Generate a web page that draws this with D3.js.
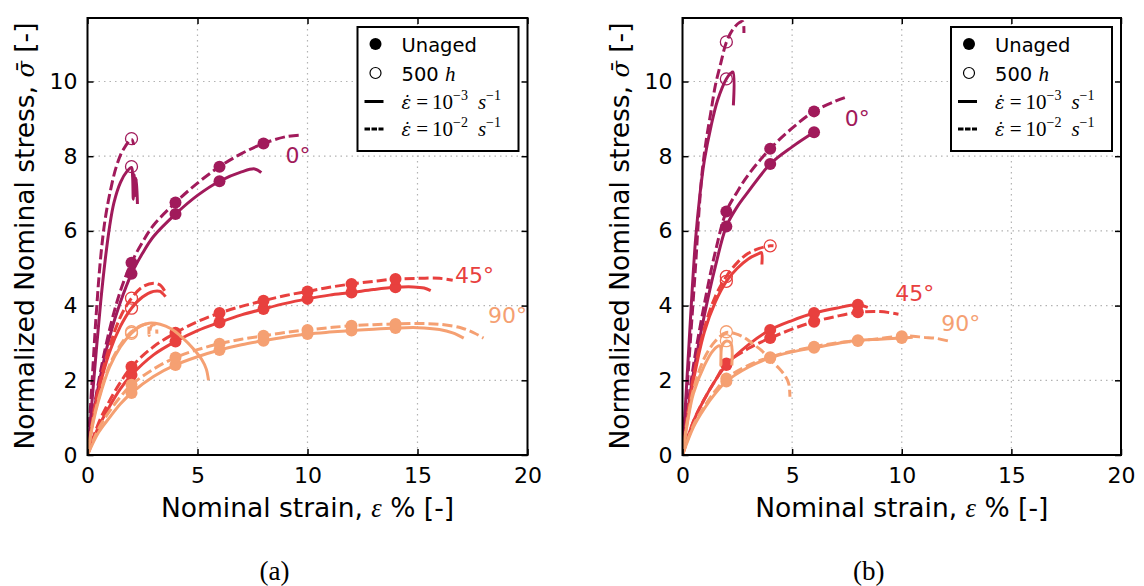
<!DOCTYPE html>
<html><head><meta charset="utf-8">
<script src="https://cdn.jsdelivr.net/npm/d3@7"></script>
<style>body{margin:0;background:#fff}</style></head>
<body><svg id="c" width="1144" height="586"></svg>
<script>
// ---------- ticks / categories ----------
const xTicks = [0, 5, 10, 15, 20];
const yTicks = [0, 2, 4, 6, 8, 10];
const yMax = 11.7;
const angleLabels = ["0°", "45°", "90°"];
const angleColors = ["#a11a5b", "#e8403e", "#f5a072"];
const legendLabels = ["Unaged", "500 h", "rate-3", "rate-2"];

// ---------- panel (a) data : [strain %, normalized stress] ----------
// us = unaged, ε̇=1e-3 (solid) ; uf = unaged, ε̇=1e-2 (dashed) ; as / af = 500 h aged
const a0_us = [[0,0],[0.25,1.0],[0.5,1.85],[1,3.15],[1.5,4.1],[2,4.85],[2.5,5.4],[3,5.85],[4,6.45],[5,6.95],[6,7.33],[7,7.58],[7.6,7.66],[7.9,7.56]];
const a0_us_m = [[2,4.85],[4,6.45],[6,7.33]];
const a0_uf = [[0,0],[0.25,1.05],[0.5,1.95],[1,3.35],[1.5,4.4],[2,5.15],[2.5,5.7],[3,6.15],[4,6.76],[5,7.28],[6,7.72],[7,8.07],[8,8.34],[9,8.52],[9.6,8.56]];
const a0_uf_m = [[2,5.15],[4,6.76],[6,7.72],[8,8.34]];
const a0_as = [[0,0],[0.2,1.4],[0.4,2.8],[0.6,4.1],[0.8,5.2],[1.0,6.1],[1.2,6.75],[1.5,7.3],[1.8,7.6],[2,7.7],[2.05,7.45],[2.08,6.85],[2.12,7.5],[2.17,6.95],[2.22,7.4],[2.27,6.72]];
const a0_as_m = [[2,7.72]];
const a0_af = [[0,0],[0.2,1.9],[0.4,3.8],[0.6,5.3],[0.8,6.3],[1.05,7.1],[1.3,7.7],[1.6,8.15],[2,8.45],[2.1,8.3]];
const a0_af_m = [[2,8.47]];
const a45_us = [[0,0],[0.5,0.75],[1,1.3],[1.5,1.78],[2,2.14],[3,2.68],[4,3.04],[5,3.33],[6,3.55],[7,3.75],[8,3.91],[9,4.06],[10,4.18],[11,4.28],[12,4.35],[13,4.43],[14,4.49],[14.8,4.5],[15.3,4.47],[15.6,4.4]];
const a45_us_m = [[2,2.14],[4,3.04],[6,3.55],[8,3.91],[10,4.18],[12,4.35],[14,4.49]];
const a45_uf = [[0,0],[0.5,0.85],[1,1.45],[1.5,1.95],[2,2.36],[3,2.9],[4,3.27],[5,3.57],[6,3.8],[7,3.98],[8,4.13],[9,4.27],[10,4.38],[11,4.49],[12,4.58],[13,4.65],[14,4.71],[15,4.73],[16,4.73],[16.6,4.68]];
const a45_uf_m = [[2,2.36],[4,3.27],[6,3.8],[8,4.13],[10,4.38],[12,4.58],[14,4.71]];
const a45_as = [[0,0],[0.25,0.95],[0.5,1.7],[1,2.75],[1.5,3.45],[2,3.93],[2.5,4.23],[3,4.38],[3.3,4.38],[3.55,4.24]];
const a45_as_m = [[2,3.93]];
const a45_af = [[0,0],[0.25,1.0],[0.5,1.8],[1,2.9],[1.5,3.7],[2,4.2],[2.5,4.5],[3,4.6],[3.3,4.55],[3.6,4.3]];
const a45_af_m = [[2,4.2]];
const a90_us = [[0,0],[0.5,0.6],[1,1.0],[1.5,1.37],[2,1.66],[3,2.1],[4,2.41],[5,2.63],[6,2.81],[7,2.95],[8,3.06],[9,3.16],[10,3.24],[11,3.29],[12,3.33],[13,3.37],[14,3.4],[15,3.41],[16,3.36],[16.6,3.27],[17.1,3.13]];
const a90_us_m = [[2,1.66],[4,2.41],[6,2.81],[8,3.06],[10,3.24],[12,3.33],[14,3.4]];
const a90_uf = [[0,0],[0.5,0.7],[1,1.17],[1.5,1.56],[2,1.88],[3,2.3],[4,2.61],[5,2.82],[6,2.98],[7,3.1],[8,3.19],[9,3.28],[10,3.35],[11,3.41],[12,3.46],[13,3.49],[14,3.51],[15,3.52],[16,3.5],[17,3.4],[17.6,3.26],[18,3.13]];
const a90_uf_m = [[2,1.88],[4,2.61],[6,2.98],[8,3.19],[10,3.35],[12,3.46],[14,3.51]];
const a90_as = [[0,0],[0.25,0.85],[0.5,1.45],[1,2.35],[1.5,2.9],[2,3.26],[2.4,3.45],[2.8,3.53],[3.3,3.5],[3.8,3.38],[4.3,3.15],[4.8,2.85],[5.2,2.55],[5.4,2.3],[5.5,2.0]];
const a90_as_m = [[2,3.26]];
const a90_af = [[0,0],[0.25,0.9],[0.5,1.5],[1,2.4],[1.5,2.95],[2,3.3],[2.5,3.48],[2.75,3.5],[2.8,3.2],[2.9,3.45],[3.1,3.48],[3.15,3.25]];
const a90_af_m = [[2,3.3]];

// ---------- panel (b) data ----------
const b0_us = [[0,0],[0.25,1.2],[0.5,2.2],[1,3.75],[1.5,5.05],[2,6.12],[2.5,6.65],[3,7.05],[4,7.79],[5,8.25],[6,8.64]];
const b0_us_m = [[2,6.12],[4,7.79],[6,8.64]];
const b0_uf = [[0,0],[0.25,1.3],[0.5,2.4],[1,4.05],[1.5,5.45],[2,6.52],[2.5,7.05],[3,7.5],[4,8.2],[5,8.75],[6,9.2],[7,9.48],[7.5,9.59]];
const b0_uf_m = [[2,6.52],[4,8.2],[6,9.2]];
const b0_as = [[0,0],[0.15,1.5],[0.3,3.0],[0.45,4.5],[0.6,5.8],[0.8,7.0],[1.0,7.9],[1.3,8.8],[1.6,9.5],[2,10.07],[2.2,10.22],[2.3,10.25],[2.32,9.36]];
const b0_as_m = [[2,10.07]];
const b0_af = [[0,0],[0.2,1.7],[0.4,3.4],[0.6,5.1],[0.75,6.5],[0.9,7.6],[1.1,8.5],[1.3,9.2],[1.5,9.9],[1.75,10.5],[2,11.05],[2.3,11.4],[2.6,11.58],[2.75,11.6],[2.8,11.3]];
const b0_af_m = [[2,11.06]];
const b45_us = [[0,0],[0.5,0.9],[1,1.5],[1.5,2.0],[2,2.41],[3,2.95],[4,3.35],[5,3.6],[6,3.8],[7,3.93],[8,4.02],[8.45,3.95]];
const b45_us_m = [[2,2.41],[4,3.35],[6,3.8],[8,4.02]];
const b45_uf = [[0,0],[0.5,0.9],[1,1.5],[1.5,2.0],[2,2.45],[3,2.85],[4,3.13],[5,3.37],[6,3.57],[7,3.71],[8,3.82],[9,3.84],[9.85,3.77]];
const b45_uf_m = [[2,2.45],[4,3.13],[6,3.57],[8,3.82]];
const b45_as = [[0,0],[0.25,1.1],[0.5,2.0],[1,3.3],[1.5,4.1],[2,4.65],[2.5,5.0],[3,5.25],[3.5,5.4],[3.6,5.42],[3.62,5.1]];
const b45_as_m = [[2,4.65]];
const b45_af = [[0,0],[0.25,1.15],[0.5,2.1],[1,3.4],[1.5,4.25],[2,4.78],[2.5,5.15],[3,5.4],[3.5,5.53],[4,5.6],[4.15,5.6]];
const b45_af_m = [[2,4.78],[4,5.6]];
const b90_us = [[0,0],[0.5,0.75],[1,1.25],[1.5,1.65],[2,1.97],[3,2.35],[4,2.6],[5,2.76],[6,2.87],[7,2.98],[8,3.07],[9,3.1],[10,3.13],[10.5,3.15]];
const b90_us_m = [[2,1.97],[4,2.6],[6,2.87],[8,3.07],[10,3.13]];
const b90_uf = [[0,0],[0.5,0.8],[1,1.3],[1.5,1.72],[2,2.05],[3,2.4],[4,2.62],[5,2.78],[6,2.9],[7,3.0],[8,3.05],[9,3.12],[10,3.18],[10.5,3.18],[11,3.15],[11.6,3.12],[12.2,3.04]];
const b90_uf_m = [[2,2.05],[4,2.62],[6,2.9],[8,3.05],[10,3.18]];
const b90_as = [[0,0],[0.25,0.95],[0.5,1.65],[1,2.4],[1.4,2.8],[1.7,2.92],[1.75,2.4],[1.8,2.92],[2,3.05],[2.2,3.0],[2.25,2.4]];
const b90_as_m = [[2,3.06]];
const b90_af = [[0,0],[0.25,1.0],[0.5,1.75],[1,2.6],[1.5,3.05],[2,3.28],[2.4,3.25],[2.8,3.15],[3.2,2.98],[3.6,2.8],[4.0,2.55],[4.4,2.32],[4.7,2.1],[4.85,1.9],[4.9,1.56]];
const b90_af_m = [[2,3.3]];

function mk(angle, aged, dashed, pts, marks){ return {angle, aged, dashed, pts, marks}; }
const seriesA = [
  mk(0,false,false,a0_us,a0_us_m), mk(0,false,true,a0_uf,a0_uf_m), mk(0,true,false,a0_as,a0_as_m), mk(0,true,true,a0_af,a0_af_m),
  mk(1,false,false,a45_us,a45_us_m), mk(1,false,true,a45_uf,a45_uf_m), mk(1,true,false,a45_as,a45_as_m), mk(1,true,true,a45_af,a45_af_m),
  mk(2,false,false,a90_us,a90_us_m), mk(2,false,true,a90_uf,a90_uf_m), mk(2,true,false,a90_as,a90_as_m), mk(2,true,true,a90_af,a90_af_m)
];
const seriesB = [
  mk(0,false,false,b0_us,b0_us_m), mk(0,false,true,b0_uf,b0_uf_m), mk(0,true,false,b0_as,b0_as_m), mk(0,true,true,b0_af,b0_af_m),
  mk(1,false,false,b45_us,b45_us_m), mk(1,false,true,b45_uf,b45_uf_m), mk(1,true,false,b45_as,b45_as_m), mk(1,true,true,b45_af,b45_af_m),
  mk(2,false,false,b90_us,b90_us_m), mk(2,false,true,b90_uf,b90_uf_m), mk(2,true,false,b90_as,b90_as_m), mk(2,true,true,b90_af,b90_af_m)
];
// annotation anchors in data coords
const annotA = [[9.0,7.83],[16.7,4.6],[18.2,3.54]];
const annotB = [[7.4,8.82],[9.7,4.13],[11.8,3.32]];

const svg = d3.select("#c");
const SANS = "DejaVu Sans", SERIF = "Liberation Serif", MATH = "DejaVu Serif";

function panel(id, left, right, series, annot, caption){
  const top = 18, bottom = 455;
  const x = d3.scaleLinear().domain([0,20]).range([left,right]);
  const y = d3.scaleLinear().domain([0,yMax]).range([bottom,top]);
  const g = svg.append("g");
  svg.append("defs").append("clipPath").attr("id","clip"+id)
    .append("rect").attr("x",left).attr("y",top).attr("width",right-left).attr("height",bottom-top);

  // grid
  g.append("g").selectAll("line").data(xTicks.slice(1,-1)).join("line")
    .attr("x1",d=>x(d)).attr("x2",d=>x(d)).attr("y1",top).attr("y2",bottom)
    .attr("stroke","#b3b3b3").attr("stroke-width",1.2).attr("stroke-dasharray","1.5,4");
  g.append("g").selectAll("line").data(yTicks.slice(1)).join("line")
    .attr("y1",d=>y(d)).attr("y2",d=>y(d)).attr("x1",left).attr("x2",right)
    .attr("stroke","#b3b3b3").attr("stroke-width",1.2).attr("stroke-dasharray","1.5,4");

  // curves
  const line = d3.line().x(d=>x(d[0])).y(d=>y(d[1])).curve(d3.curveCatmullRom.alpha(0.5));
  const cg = g.append("g").attr("clip-path",`url(#clip${id})`);
  series.forEach(s=>{
    const col = angleColors[s.angle];
    cg.append("path").attr("d",line(s.pts)).attr("fill","none").attr("stroke",col)
      .attr("stroke-width",3).attr("stroke-linejoin","round")
      .attr("stroke-dasharray", s.dashed ? "10,4" : null);
    cg.append("g").selectAll("circle").data(s.marks).join("circle")
      .attr("cx",d=>x(d[0])).attr("cy",d=>y(d[1])).attr("r",6)
      .attr("fill", s.aged ? "#fff" : col).attr("fill-opacity", s.aged ? 0 : 1)
      .attr("stroke", col).attr("stroke-width", s.aged ? 1.3 : 0);
  });

  // axes (inward ticks on all sides)
  const fmt = d3.format("d");
  const ax = g.append("g").attr("transform",`translate(0,${bottom})`)
    .call(d3.axisBottom(x).tickValues(xTicks).tickSize(-6).tickPadding(12).tickFormat(fmt));
  const ay = g.append("g").attr("transform",`translate(${left},0)`)
    .call(d3.axisLeft(y).tickValues(yTicks).tickSize(-6).tickPadding(10).tickFormat(fmt));
  g.append("g").attr("transform",`translate(0,${top})`)
    .call(d3.axisTop(x).tickValues(xTicks).tickSize(-6).tickFormat(""));
  g.append("g").attr("transform",`translate(${right},0)`)
    .call(d3.axisRight(y).tickValues(yTicks).tickSize(-6).tickFormat(""));
  g.selectAll(".domain").remove();
  g.selectAll(".tick line").attr("stroke","#000").attr("stroke-width",1.5);
  g.selectAll(".tick text").attr("font-family",SANS).attr("font-size",22).attr("fill","#000");
  ax.selectAll(".tick text").attr("dy","0.71em");
  g.append("rect").attr("x",left).attr("y",top).attr("width",right-left).attr("height",bottom-top)
    .attr("fill","none").attr("stroke","#000").attr("stroke-width",2);

  // axis labels
  const yl = g.append("text").attr("transform",`translate(${left-54},236) rotate(-90)`)
    .attr("text-anchor","middle").attr("font-family",SANS).attr("font-size",26.5);
  yl.append("tspan").text("Normalized Nominal stress, ");
  yl.append("tspan").attr("font-family",MATH).attr("font-style","italic").attr("font-size",24).text("σ\u0304");
  yl.append("tspan").text(" [-]");
  const xl = g.append("text").attr("x",(left+right)/2).attr("y",517)
    .attr("text-anchor","middle").attr("font-family",SANS).attr("font-size",26.5);
  xl.append("tspan").text("Nominal strain, ");
  xl.append("tspan").attr("font-family",SERIF).attr("font-style","italic").text("ε");
  xl.append("tspan").text(" % [-]");

  // angle annotations
  annot.forEach((p,i)=>{
    g.append("text").attr("x",x(p[0])).attr("y",y(p[1])).attr("font-family",SANS)
      .attr("font-size",22).attr("fill",angleColors[i]).text(angleLabels[i]);
  });

  // legend
  const bw = 161, bh = 124, bx = right - 9 - bw, by = 27;
  const lg = g.append("g");
  lg.append("rect").attr("x",bx).attr("y",by).attr("width",bw).attr("height",bh)
    .attr("fill","#fff").attr("stroke","#000").attr("stroke-width",2);
  const mx = bx + 18, tx = bx + 44;
  const rows = [by+17, by+46, by+74.5, by+102];
  lg.append("circle").attr("cx",mx).attr("cy",rows[0]).attr("r",6).attr("fill","#000");
  lg.append("circle").attr("cx",mx).attr("cy",rows[1]).attr("r",5.5).attr("fill","#fff").attr("stroke","#000").attr("stroke-width",1.2);
  lg.append("line").attr("x1",mx-11).attr("x2",mx+8).attr("y1",rows[2]).attr("y2",rows[2]).attr("stroke","#000").attr("stroke-width",3);
  lg.append("line").attr("x1",mx-11).attr("x2",mx+8).attr("y1",rows[3]).attr("y2",rows[3]).attr("stroke","#000").attr("stroke-width",3).attr("stroke-dasharray","5.5,1.5");
  lg.append("text").attr("x",tx).attr("y",rows[0]+7.5).attr("font-family",SANS).attr("font-size",19.5).text(legendLabels[0]);
  const t2 = lg.append("text").attr("x",tx).attr("y",rows[1]+7.5).attr("font-family",SANS).attr("font-size",19.5);
  t2.append("tspan").text("500 ");
  t2.append("tspan").attr("font-family",SERIF).attr("font-style","italic").attr("font-size",21).text("h");
  [["−3",rows[2]],["−2",rows[3]]].forEach(([ex,ry])=>{
    const t = lg.append("text").attr("x",tx).attr("y",ry+7).attr("font-family",SERIF).attr("font-size",21);
    t.append("tspan").attr("font-family",MATH).attr("font-style","italic").attr("font-size",18).text("ε\u0307");
    t.append("tspan").attr("dx",5).text("=");
    t.append("tspan").attr("dx",4).text("10");
    t.append("tspan").attr("font-size",14).attr("dy",-9).text(ex);
    t.append("tspan").attr("font-style","italic").attr("dy",9).attr("dx",10).text("s");
    t.append("tspan").attr("font-size",14).attr("dy",-9).text("−1");
  });

  // caption
  g.append("text").attr("x",(left+right)/2-33).attr("y",580).attr("text-anchor","middle")
    .attr("font-family",SERIF).attr("font-size",27).text(caption);
}

panel("a", 87.5, 527.5, seriesA, annotA, "(a)");
panel("b", 682.5, 1121, seriesB, annotB, "(b)");
</script>
</body></html>
